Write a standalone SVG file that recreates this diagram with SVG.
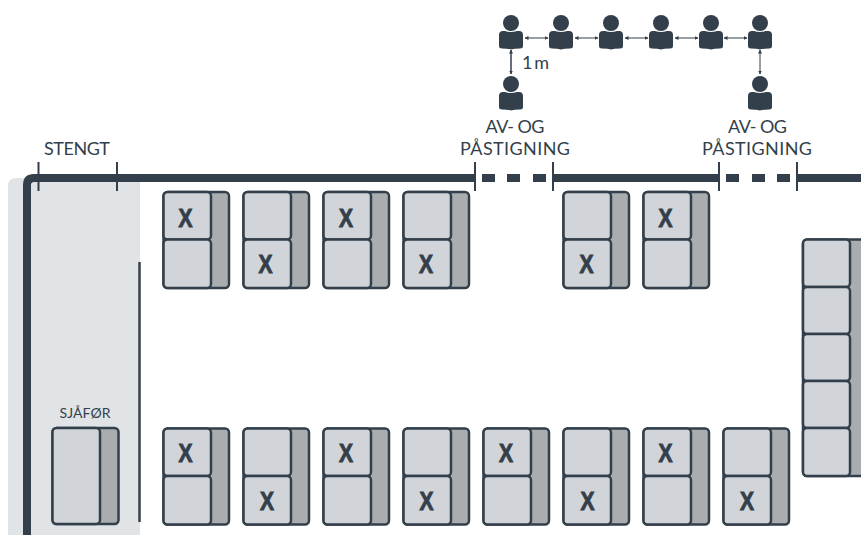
<svg xmlns="http://www.w3.org/2000/svg" width="861" height="535" viewBox="0 0 861 535">
<style>
text{font-family:"Lato","Noto Sans","Liberation Sans",sans-serif;fill:#333f4b;text-anchor:middle}
.lb{font-size:18px}
.x{font-family:"Liberation Sans",sans-serif;font-weight:700;font-size:26px;stroke:#333f4b;stroke-width:1}
.back{fill:#a9adb0;stroke:#333f4b;stroke-width:2.5}
.cu{fill:#d1d4d8;stroke:#333f4b;stroke-width:2.5}
.p{fill:#333f4b}
.main{fill:none;stroke:#333f4b;stroke-width:8}
.tick{stroke:#333f4b;stroke-width:2;fill:none}
.ar{stroke:#333f4b;stroke-width:1;fill:none;marker-start:url(#m);marker-end:url(#m)}
.dash{fill:#333f4b}
</style>
<defs>
<marker id="m" markerWidth="4" markerHeight="4" refX="3.500" refY="2" orient="auto-start-reverse" markerUnits="userSpaceOnUse"><path d="M0 0L4 2L0 4z" fill="#333f4b"/></marker>
<g id="person"><circle cx="0" cy="0" r="8"/><path d="M-12 12Q-12 8 -8 8H-6Q0 10 6 8H8Q12 8 12 12V23Q12 25.500 9 25.500Q3 25.500 0 26.500Q-3 25.500 -9 25.500Q-12 25.500 -12 23Z"/></g>
<g id="seat"><rect class="back" x="0" y="0" width="65.500" height="96" rx="4"/><rect class="cu" x="0" y="0" width="47.500" height="47.500" rx="4"/><rect class="cu" x="0" y="47.500" width="47.500" height="48.500" rx="4"/></g>
</defs>
<path d="M8 535V186Q8 178 16 178H140V535Z" fill="#e1e4e7"/>
<path d="M139.500 262V522" stroke="#333f4b" stroke-width="2.500" fill="none"/>
<g id="connectors">
<path class="main" d="M27 535V185Q27 178 34 178H475"/>
<path class="main" d="M553 178H719"/>
<path class="main" d="M797 178H861"/>
<rect class="dash" x="482" y="174" width="13" height="8"/><rect class="dash" x="507" y="174" width="13" height="8"/><rect class="dash" x="533" y="174" width="13" height="8"/>
<rect class="dash" x="726" y="174" width="13" height="8"/><rect class="dash" x="752" y="174" width="13" height="8"/><rect class="dash" x="777" y="174" width="13" height="8"/>
<path class="tick" d="M38.500 162V191M117 162V191M475 162V191M553 162V191M719 162V191M797 162V191"/>
<path class="ar" d="M525 38H548"/><path class="ar" d="M575 38H598"/><path class="ar" d="M625 38H648"/><path class="ar" d="M675 38H698"/><path class="ar" d="M724 38H747"/>
<path class="ar" style="stroke-width:1.500" d="M511 50V74"/><path class="ar" d="M760 50V74"/>
</g>
<g id="people" class="p">
<use href="#person" x="511" y="23"/><use href="#person" x="561" y="23"/><use href="#person" x="611" y="23"/><use href="#person" x="661" y="23"/><use href="#person" x="711" y="23"/><use href="#person" x="760" y="23"/><use href="#person" x="511" y="84"/><use href="#person" x="760" y="84"/>
</g>
<g id="labels">
<text class="lb" x="535.500" y="69" textLength="27">1 m</text>
<text class="lb" x="515" y="133" textLength="59">AV- OG</text><text class="lb" x="515" y="155" textLength="110">PÅSTIGNING</text>
<text class="lb" x="757.500" y="133" textLength="59">AV- OG</text><text class="lb" x="757" y="155" textLength="110">PÅSTIGNING</text>
<text class="lb" x="77" y="155" textLength="66">STENGT</text>
<text x="85" y="418" style="font-size:14px" textLength="51">SJÅFØR</text>
</g>
<g id="driver"><rect class="back" x="52.500" y="428" width="66" height="96" rx="4"/><rect class="cu" x="52.500" y="428" width="47.500" height="96" rx="4"/></g>
<g id="seats-top">
<g id="s1"><use href="#seat" x="163.500" y="192"/><text class="x" x="185.500" y="227" textLength="14" lengthAdjust="spacingAndGlyphs">X</text></g>
<g id="s2"><use href="#seat" x="243.500" y="192"/><text class="x" x="265.500" y="273" textLength="14" lengthAdjust="spacingAndGlyphs">X</text></g>
<g id="s3"><use href="#seat" x="323.500" y="192"/><text class="x" x="346" y="227" textLength="14" lengthAdjust="spacingAndGlyphs">X</text></g>
<g id="s4"><use href="#seat" x="403.500" y="192"/><text class="x" x="426" y="273" textLength="14" lengthAdjust="spacingAndGlyphs">X</text></g>
<g id="s5"><use href="#seat" x="563.500" y="192"/><text class="x" x="586.500" y="273" textLength="14" lengthAdjust="spacingAndGlyphs">X</text></g>
<g id="s6"><use href="#seat" x="643.500" y="192"/><text class="x" x="665.500" y="227" textLength="14" lengthAdjust="spacingAndGlyphs">X</text></g>
</g>
<g id="seats-bottom">
<g id="s7"><use href="#seat" x="163.500" y="428.500"/><text class="x" x="185.500" y="462" textLength="14" lengthAdjust="spacingAndGlyphs">X</text></g>
<g id="s8"><use href="#seat" x="243.500" y="428.500"/><text class="x" x="267" y="510" textLength="14" lengthAdjust="spacingAndGlyphs">X</text></g>
<g id="s9"><use href="#seat" x="323.500" y="428.500"/><text class="x" x="346" y="462" textLength="14" lengthAdjust="spacingAndGlyphs">X</text></g>
<g id="s10"><use href="#seat" x="403.500" y="428.500"/><text class="x" x="426.500" y="510" textLength="14" lengthAdjust="spacingAndGlyphs">X</text></g>
<g id="s11"><use href="#seat" x="483.500" y="428.500"/><text class="x" x="506" y="462" textLength="14" lengthAdjust="spacingAndGlyphs">X</text></g>
<g id="s12"><use href="#seat" x="563.500" y="428.500"/><text class="x" x="587.500" y="510" textLength="14" lengthAdjust="spacingAndGlyphs">X</text></g>
<g id="s13"><use href="#seat" x="643.500" y="428.500"/><text class="x" x="665.500" y="462" textLength="14" lengthAdjust="spacingAndGlyphs">X</text></g>
<g id="s14"><use href="#seat" x="723.500" y="428.500"/><text class="x" x="747" y="510" textLength="14" lengthAdjust="spacingAndGlyphs">X</text></g>
</g>
<g id="bench">
<rect class="back" x="803" y="239.500" width="70" height="236.500" rx="4"/>
<rect class="cu" x="803" y="239.500" width="47" height="47.500" rx="4"/><rect class="cu" x="803" y="287" width="47" height="47" rx="4"/><rect class="cu" x="803" y="334" width="47" height="47" rx="4"/><rect class="cu" x="803" y="381" width="47" height="47" rx="4"/><rect class="cu" x="803" y="428" width="47" height="48" rx="4"/>
</g>
</svg>
